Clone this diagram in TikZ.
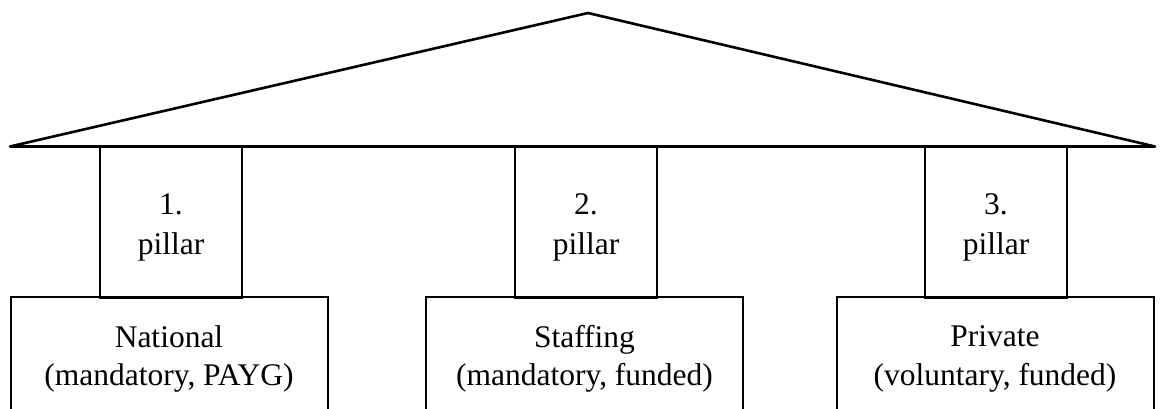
\documentclass[tikz,border=0pt]{standalone}
\usepackage{fontspec}
\setmainfont{Liberation Serif}
\begin{document}
\begin{tikzpicture}[x=1pt,y=-1pt,
  every node/.style={inner sep=0pt,outer sep=0pt},
  roofline/.style={line width=2.6pt,line join=round},
  pillarbox/.style={draw,line width=2pt,minimum width=142pt,minimum height=151pt},
  pillartext/.style={align=center,font=\fontsize{31.5}{40}\selectfont},
  basebox/.style={draw,line width=2pt,minimum width=317pt,minimum height=124pt,align=center,
    font=\fontsize{31.5}{38.5}\selectfont}]
\useasboundingbox (0,0) rectangle (1161,408);
% pillars
\node[pillarbox] (p1) at (171,222) {};
\node[pillarbox] (p2) at (586,222) {};
\node[pillarbox] (p3) at (996,222) {};
\node[pillartext] (t1) at ([yshift=-5pt]p1.center) {1.\\pillar};
\node[pillartext] (t2) at ([yshift=-5pt]p2.center) {2.\\pillar};
\node[pillartext] (t3) at ([yshift=-5pt]p3.center) {3.\\pillar};
% bases
\node[basebox] (b1) at (169,359) {National\\(mandatory, PAYG)};
\node[basebox] (b2) at (584.5,359) {Staffing\\(mandatory, funded)};
\node[basebox] (b3) at (995,359) {Private\\(voluntary, funded)};
% roof
\coordinate (rl) at (10,146.5);
\coordinate (ra) at (588,13);
\coordinate (rr) at (1155,146.5);
\draw[roofline] (rl) -- (ra) -- (rr) -- cycle;
\end{tikzpicture}
\end{document}
